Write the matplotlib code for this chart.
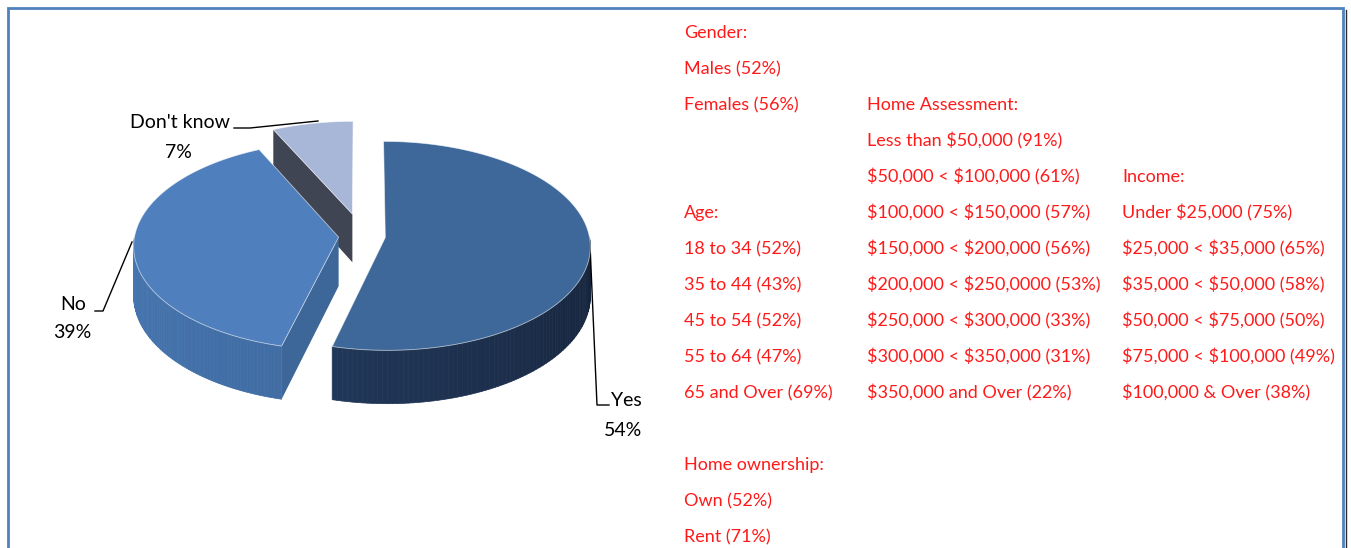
import numpy as np
import matplotlib.pyplot as plt
from matplotlib.patches import Polygon
from matplotlib.collections import PolyCollection
from matplotlib.colors import to_rgb

plt.rcParams['text.parse_math'] = False
plt.rcParams['font.family'] = ['Lato', 'DejaVu Sans']

# pie data
labels = ["Yes", "No", "Don't know"]
values = [54, 39, 7]
pct_labels = ["54%", "39%", "7%"]

# breakdown text (red, right side)
gender_items = ["Males (52%)", "Females (56%)"]
age_items = ["18 to 34 (52%)", "35 to 44 (43%)", "45 to 54 (52%)",
             "55 to 64 (47%)", "65 and Over (69%)"]
own_items = ["Own (52%)", "Rent (71%)"]
home_items = ["Less than $50,000 (91%)", "$50,000 < $100,000 (61%)",
              "$100,000 < $150,000 (57%)", "$150,000 < $200,000 (56%)",
              "$200,000 < $250,0000 (53%)", "$250,000 < $300,000 (33%)",
              "$300,000 < $350,000 (31%)", "$350,000 and Over (22%)"]
income_items = ["Under $25,000 (75%)", "$25,000 < $35,000 (65%)",
                "$35,000 < $50,000 (58%)", "$50,000 < $75,000 (50%)",
                "$75,000 < $100,000 (49%)", "$100,000 & Over (38%)"]

# styling of the 3d pie
top_colors = ["#3e6899", "#4f80bd", "#a8b7d8"]
rim_colors = [("#15233a", "#2a4670"), ("#3a6094", "#4676b0"), ("#3f4553", "#3f4553")]
cut_colors = ["#2f4f7c", "#3d6699", "#3f4553"]
explode = [0.115, 0.115, 0.22]

CX, CY = 362.0, 285.0
A, B, D, K = 204.0, 107.5, 49.0, 0.08


def proj(X, Z, H):
    s = 1.0 / (1.0 + K * Z)
    return CX + A * X * s, CY - (B * Z + D * H) * s


def mix(c1, c2, t):
    a, b = np.array(to_rgb(c1)), np.array(to_rgb(c2))
    return tuple(a + (b - a) * t)


fig = plt.figure(figsize=(13.51, 5.48), dpi=100)
ax = fig.add_axes([0, 0, 1, 1])
ax.set_xlim(0, 1351)
ax.set_ylim(548, 0)
ax.axis('off')

edges = np.concatenate([[0], np.cumsum(values)]) / sum(values) * 360.0
order = sorted(range(len(values)),
               key=lambda i: -np.cos(np.radians((edges[i] + edges[i + 1]) / 2)) * explode[i])

for i in order:
    t0, t1 = edges[i], edges[i + 1]
    m = np.radians((t0 + t1) / 2)
    ox, oz = explode[i] * np.sin(m), explode[i] * np.cos(m)

    def rim(th, h):
        r = np.radians(th)
        return proj(ox + np.sin(r), oz + np.cos(r), h)

    cx_top = proj(ox, oz, 1)
    cx_bot = proj(ox, oz, 0)

    # cut faces
    if np.sin(np.radians(t0)) < -1e-6:
        ax.add_patch(Polygon([cx_top, rim(t0, 1), rim(t0, 0), cx_bot], closed=True,
                             facecolor=cut_colors[i], edgecolor='none', zorder=2))
    if np.sin(np.radians(t1)) > 1e-6:
        ax.add_patch(Polygon([cx_top, rim(t1, 1), rim(t1, 0), cx_bot], closed=True,
                             facecolor=cut_colors[i], edgecolor='none', zorder=2))

    # outer wall (front half only)
    a0, a1 = max(t0, 90.0), min(t1, 270.0)
    if a1 > a0:
        ths = np.linspace(a0, a1, 80)
        quads, cols = [], []
        for j in range(len(ths) - 1):
            quads.append([rim(ths[j], 1), rim(ths[j + 1], 1), rim(ths[j + 1], 0), rim(ths[j], 0)])
            cols.append(mix(rim_colors[i][0], rim_colors[i][1], (ths[j] - 90.0) / 180.0))
        ax.add_collection(PolyCollection(quads, facecolors=cols, edgecolors=cols,
                                         linewidths=0.5, zorder=2))

    # top face
    ths = np.linspace(t0, t1, 120)
    pts = [cx_top] + [rim(t, 1) for t in ths]
    ax.add_patch(Polygon(pts, closed=True, facecolor=top_colors[i],
                         edgecolor=(1, 1, 1, 0.6), linewidth=0.6, zorder=3))

# pie labels with leader lines
fs = 14
ax.text(180, 122, labels[2], ha='center', va='center', fontsize=fs, color='black')
ax.text(178, 152, pct_labels[2], ha='center', va='center', fontsize=fs, color='black')
ax.plot([234, 250, 318], [128, 128, 121], color='black', lw=1)

ax.text(73, 304, labels[1], ha='center', va='center', fontsize=fs, color='black')
ax.text(72, 333, pct_labels[1], ha='center', va='center', fontsize=fs, color='black')
ax.plot([95, 103, 132], [311, 311, 242], color='black', lw=1)

ax.text(626, 400, labels[0], ha='center', va='center', fontsize=fs, color='black')
ax.text(623, 430, pct_labels[0], ha='center', va='center', fontsize=fs, color='black')
ax.plot([590, 597, 609], [245, 405, 405], color='black', lw=1)


# right hand breakdown, rows 36 px apart
def row(k):
    return 33 + 36 * k


fs2 = 13
col1, col2, col3 = 684, 867, 1122
red = '#ff1a1a'
ax.text(col1, row(0), "Gender:", fontsize=fs2, color=red, va='center')
for k, t in enumerate(gender_items):
    ax.text(col1, row(1 + k), t, fontsize=fs2, color=red, va='center')
ax.text(col1, row(5), "Age:", fontsize=fs2, color=red, va='center')
for k, t in enumerate(age_items):
    ax.text(col1, row(6 + k), t, fontsize=fs2, color=red, va='center')
ax.text(col1, row(12), "Home ownership:", fontsize=fs2, color=red, va='center')
for k, t in enumerate(own_items):
    ax.text(col1, row(13 + k), t, fontsize=fs2, color=red, va='center')

ax.text(col2, row(2), "Home Assessment:", fontsize=fs2, color=red, va='center')
for k, t in enumerate(home_items):
    ax.text(col2, row(3 + k), t, fontsize=fs2, color=red, va='center')

ax.text(col3, row(4), "Income:", fontsize=fs2, color=red, va='center')
for k, t in enumerate(income_items):
    ax.text(col3, row(5 + k), t, fontsize=fs2, color=red, va='center')

# frame
ax.plot([8, 8, 1343, 1343], [560, 8, 8, 560], color='#4f81bd', lw=2, solid_joinstyle='miter')
ax.plot([1345.5, 1345.5], [10, 560], color='#2b2b2b', lw=1)

fig.savefig('out.png', dpi=100)
